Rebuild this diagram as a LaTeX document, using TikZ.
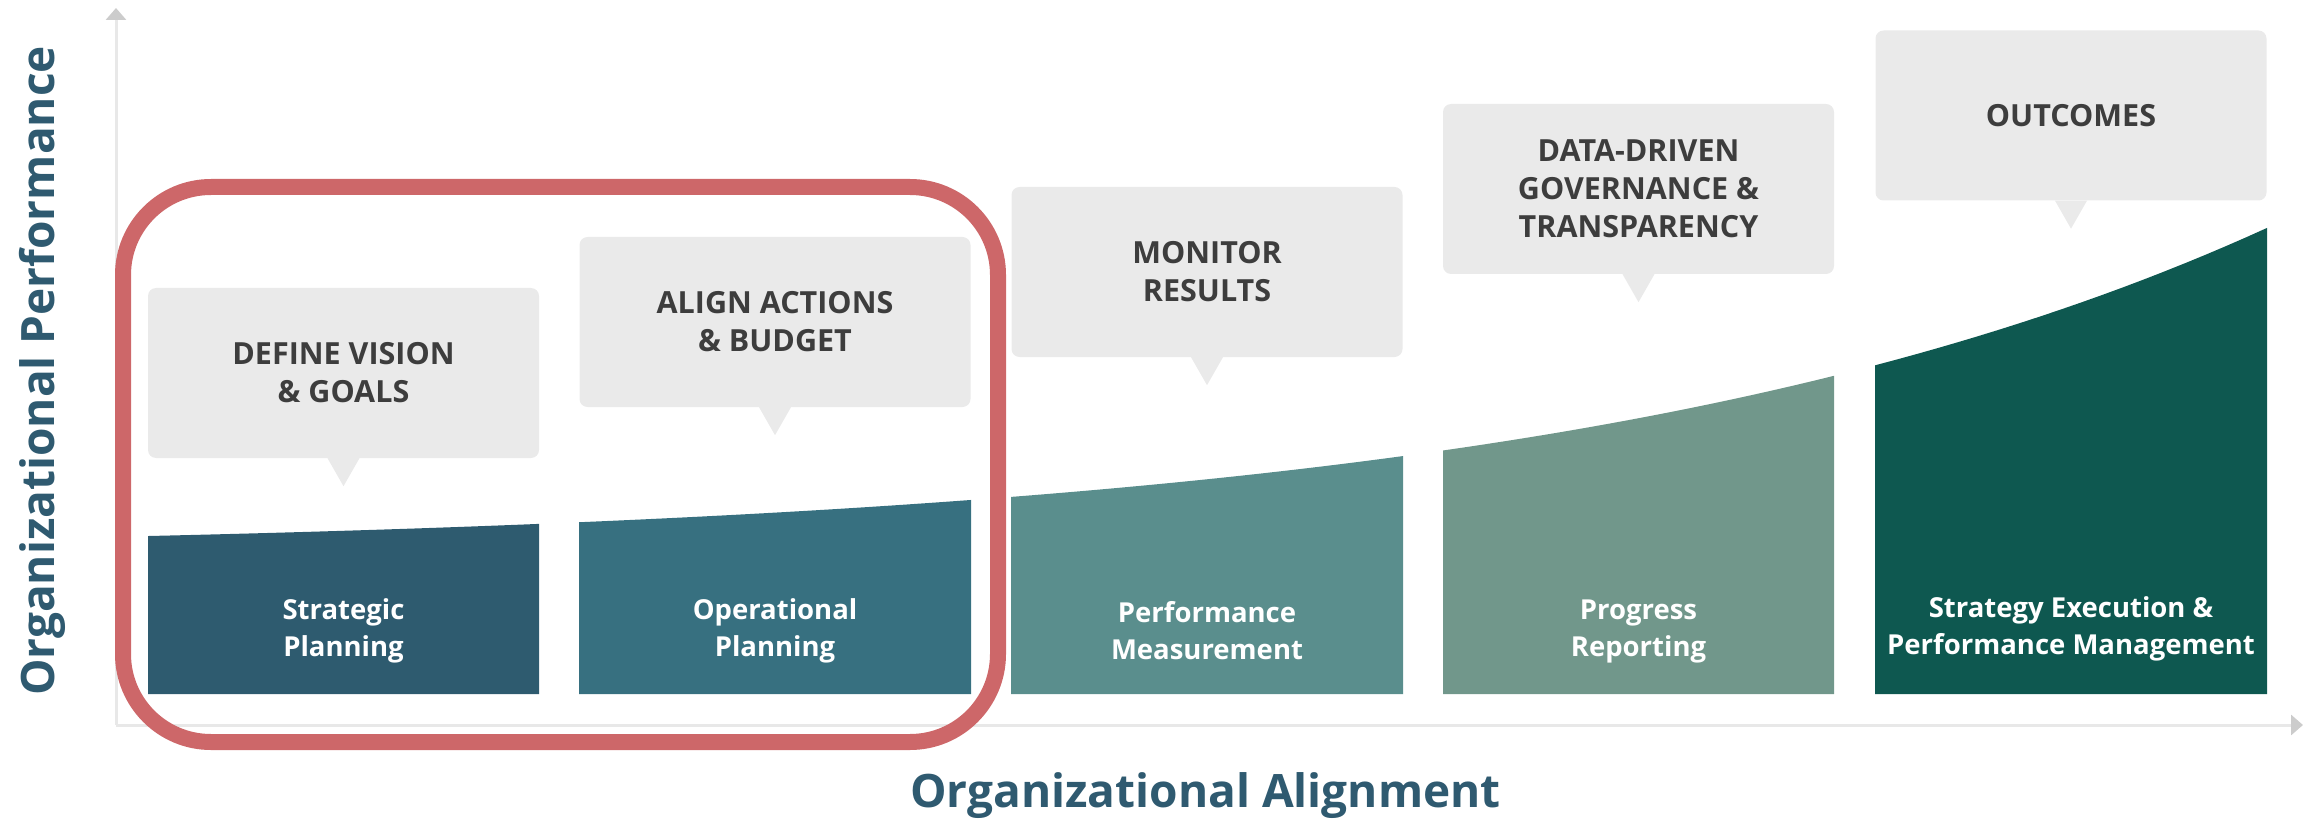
\documentclass[tikz,border=0pt]{standalone}
\usepackage{fontspec}
\setmainfont{Open Sans}
\usetikzlibrary{arrows.meta}

\definecolor{stratblue}{HTML}{2E5B6F}
\definecolor{operblue}{HTML}{377080}
\definecolor{measteal}{HTML}{5A8E8D}
\definecolor{reportgreen}{HTML}{71978B}
\definecolor{execgreen}{HTML}{0E5850}
\definecolor{calloutgray}{HTML}{EAEAEA}
\definecolor{calloutink}{HTML}{3D3D3D}
\definecolor{highlightred}{HTML}{CD6769}
\definecolor{axisgray}{HTML}{E8E8E8}
\definecolor{axistip}{HTML}{CCCCCC}
\definecolor{axisink}{HTML}{2F5A70}

\begin{document}
\begin{tikzpicture}
    [
      x=1pt, y=-1pt,
      callout/.style = {shape=rectangle, rounded corners=8pt, fill=calloutgray, text=calloutink,
                        minimum width=391pt, minimum height=170pt, align=center,
                        font=\fontsize{30.5}{38}\selectfont\bfseries},
      barlabel/.style = {text=white, align=center, font=\fontsize{27.5}{37}\selectfont\bfseries},
      axislabel/.style = {text=axisink, font=\fontsize{46}{52}\selectfont\bfseries},
      axisline/.style = {line width=3pt, draw=axisgray, -{Triangle[length=12pt, width=20pt, color=axistip]}},
      highlight/.style = {draw=highlightred, line width=16pt, rounded corners=88pt}
    ]
    \useasboundingbox (0,0) rectangle (2315,826);

    % axes
    \coordinate (origin) at (116,725);
    \coordinate (ytop) at (116,8);
    \coordinate (xend) at (2303,725);
    \draw[axisline] (origin) -- (ytop);
    \draw[axisline] (origin) -- (xend);
    \node[axislabel, rotate=90, anchor=base] (perf) at (54,371) {Organizational Performance};
    \node[axislabel, anchor=base] (alignment) at (1205.5,807) {Organizational Alignment};

    % bars, tops on one rising curve
    \fill[stratblue] (148,694) -- plot[domain=148:539, samples=20] (\x, {552.6-16.58*exp(0.0014*(\x-148))}) -- (539,694) -- cycle;
    \fill[operblue] (579,694) -- plot[domain=579:971, samples=20] (\x, {552.6-16.58*exp(0.0014*(\x-148))}) -- (971,694) -- cycle;
    \fill[measteal] (1011,694) -- plot[domain=1011:1403, samples=20] (\x, {552.6-16.58*exp(0.0014*(\x-148))}) -- (1403,694) -- cycle;
    \fill[reportgreen] (1443,694) -- plot[domain=1443:1834, samples=20] (\x, {552.6-16.58*exp(0.0014*(\x-148))}) -- (1834,694) -- cycle;
    \fill[execgreen] (1875,694) -- plot[domain=1875:2267, samples=20] (\x, {552.6-16.58*exp(0.0014*(\x-148))}) -- (2267,694) -- cycle;

    \node[barlabel] (strategic) at (343.5,631) {Strategic\\Planning};
    \node[barlabel] (operational) at (775,631) {Operational\\Planning};
    \node[barlabel] (measurement) at (1207,631) {Performance\\Measurement};
    \node[barlabel] (reporting) at (1638.5,631) {Progress\\Reporting};
    \node[barlabel] (execution) at (2071,629) {Strategy Execution \&\\Performance Management};

    % callouts
    \node[callout] (vision) at (343.5,373) {DEFINE VISION\\\& GOALS};
    \node[callout] (align) at (775,322) {ALIGN ACTIONS\\\& BUDGET};
    \node[callout] (monitor) at (1207,272) {MONITOR\\RESULTS};
    \node[callout] (governance) at (1638.5,189) {DATA-DRIVEN\\GOVERNANCE \&\\TRANSPARENCY};
    \node[callout] (outcomes) at (2071,115.5) {OUTCOMES};

    \fill[calloutgray] ([xshift=-16pt]vision.south) -- ([yshift=-28pt]vision.south) -- ([xshift=16pt]vision.south) -- cycle;
    \fill[calloutgray] ([xshift=-16pt]align.south) -- ([yshift=-28pt]align.south) -- ([xshift=16pt]align.south) -- cycle;
    \fill[calloutgray] ([xshift=-16pt]monitor.south) -- ([yshift=-28pt]monitor.south) -- ([xshift=16pt]monitor.south) -- cycle;
    \fill[calloutgray] ([xshift=-16pt]governance.south) -- ([yshift=-28pt]governance.south) -- ([xshift=16pt]governance.south) -- cycle;
    \fill[calloutgray] ([xshift=-16pt]outcomes.south) -- ([yshift=-28pt]outcomes.south) -- ([xshift=16pt]outcomes.south) -- cycle;

    % planning phase highlight
    \draw[highlight] (123,187) rectangle (998,742);
  \end{tikzpicture}
\end{document}
